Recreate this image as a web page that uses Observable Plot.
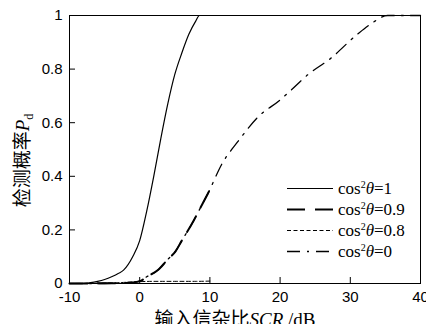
<!DOCTYPE html>
<html>
<head>
<meta charset="utf-8">
<script src="https://cdn.jsdelivr.net/npm/d3@7"></script>
<script src="https://cdn.jsdelivr.net/npm/@observablehq/plot@0.6"></script>
<style>
  body { margin: 0; background: #fff; }
  #wrap { position: relative; width: 426px; height: 324px; overflow: hidden; }
  #legend { position: absolute; left: 287px; top: 178px; font-family: "Liberation Serif", serif; font-size: 17px; color: #000; }
  .row { display: flex; align-items: center; height: 21px; }
  .row svg { display: block; }
  .row span { margin-left: 5px; white-space: nowrap; line-height: 1; }
  .row sup { font-size: 10px; vertical-align: 6px; }
</style>
</head>
<body>
<div id="wrap"><div id="legend"></div></div>
<script>
// ---- data ----
const cosValues = ["1", "0.9", "0.8", "0"];

const scr1 = [-10, -8, -7, -6, -5, -4, -3, -2.3, -1, 0, 1, 2, 3, 4, 5, 6, 7, 8, 8.5, 10];
const pd1  = [0, 0, 0.003, 0.008, 0.015, 0.025, 0.038, 0.05, 0.1, 0.16, 0.27, 0.4, 0.54, 0.67, 0.78, 0.86, 0.93, 0.98, 1, 1];

const scr09 = [-10, -5, -2, 0, 1, 2.6, 4, 5.1, 6, 7.7, 8.3, 9.7, 10];
const pd09  = [0, 0.001, 0.002, 0.008, 0.025, 0.05, 0.09, 0.12, 0.16, 0.235, 0.265, 0.335, 0.35];

const scr08 = [-10, -4, 0, 2, 5, 8, 10];
const pd08  = [0, 0.002, 0.007, 0.008, 0.008, 0.008, 0.009];

const scr0 = [-10, -5, -1, 0, 1, 2.6, 4, 5.1, 6, 7.7, 8.3, 9.7, 11.8, 14, 16.8, 20, 21.5, 24, 27.2, 31, 33, 35.3, 40];
const pd0  = [0, 0, 0.002, 0.01, 0.025, 0.05, 0.09, 0.12, 0.16, 0.235, 0.265, 0.335, 0.45, 0.53, 0.62, 0.685, 0.72, 0.78, 0.84, 0.93, 0.97, 1, 1];

const xTicks = [-10, 0, 10, 20, 30, 40];
const yTicks = [0, 0.2, 0.4, 0.6, 0.8, 1];

const xLabel = "输入信杂比SCR /dB";
const yLabel = "检测概率Pd";

// ---- styles (not data) ----
const seriesStyles = [
  {dash: null, width: 1.2},
  {dash: "18,10", width: 2},
  {dash: "4,2.5", width: 1},
  {dash: "13,7,2,7", width: 1.3}
];

const series = [[scr1, pd1], [scr09, pd09], [scr08, pd08], [scr0, pd0]];
const rows = series.flatMap(([xs, ys], k) => xs.map((x, i) => ({x, y: ys[i], k})));

const lineMarks = series.map((_, k) =>
  Plot.line(rows.filter(d => d.k === k), {
    x: "x", y: "y", stroke: "black",
    strokeWidth: seriesStyles[k].width,
    strokeDasharray: seriesStyles[k].dash,
    curve: "monotone-x"
  })
);

const chart = Plot.plot({
  width: 426,
  height: 324,
  marginLeft: 69,
  marginRight: 6,
  marginTop: 15,
  marginBottom: 41,
  style: {fontFamily: "'Liberation Sans', Arial, sans-serif", fontSize: "15px", background: "#fff", color: "#000"},
  x: {domain: [-10, 40]},
  y: {domain: [0, 1]},
  marks: [
    ...lineMarks,
    Plot.frame({stroke: "black", strokeWidth: 1}),
    Plot.axisX({ticks: xTicks, tickSize: -6, tickPadding: 14, label: null, tickFormat: d => String(d)}),
    Plot.axisY({ticks: yTicks, tickSize: -6, tickPadding: 13, label: null, tickFormat: d => String(d)}),
    Plot.text([yLabel], {text: d => d, frameAnchor: "left", textAnchor: "middle", rotate: -90, dx: -47, dy: 11, fontSize: 19, fontFamily: "'Noto Sans CJK SC', sans-serif"}),
    Plot.text([xLabel], {text: d => d, frameAnchor: "bottom", textAnchor: "middle", dx: -10, dy: 42, fontSize: 19, fontFamily: "'Noto Sans CJK SC', sans-serif"})
  ]
});

// rich text for the axis labels
function richen(content, parts) {
  d3.select(chart).selectAll("text").filter(function() { return this.textContent === content; })
    .each(function() {
      const t = d3.select(this);
      t.text(null);
      parts.forEach(p => {
        const s = t.append("tspan").text(p.t);
        if (p.attrs) Object.entries(p.attrs).forEach(([a, v]) => s.attr(a, v));
      });
    });
}
richen(yLabel, [
  {t: "检测概率"},
  {t: "P", attrs: {"font-family": "'Liberation Serif', serif", "font-style": "italic"}},
  {t: "d", attrs: {"font-family": "'Liberation Serif', serif", "font-size": "12px", dy: "0.35em"}}
]);
richen(xLabel, [
  {t: "输入信杂比"},
  {t: "SCR", attrs: {"font-family": "'Liberation Serif', serif", "font-style": "italic"}},
  {t: " /dB", attrs: {"font-family": "'Liberation Serif', serif"}}
]);

document.getElementById("wrap").prepend(chart);

// legend
const legend = document.getElementById("legend");
cosValues.forEach((v, k) => {
  const row = document.createElement("div");
  row.className = "row";
  const st = seriesStyles[k];
  row.innerHTML = `<svg width="46" height="21"><line x1="0" x2="46" y1="10.5" y2="10.5" stroke="black" stroke-width="${st.width}" ${st.dash ? `stroke-dasharray="${st.dash}"` : ""}/></svg><span>cos<sup>2</sup><i>θ</i>=${v}</span>`;
  legend.appendChild(row);
});
</script>
</body>
</html>
